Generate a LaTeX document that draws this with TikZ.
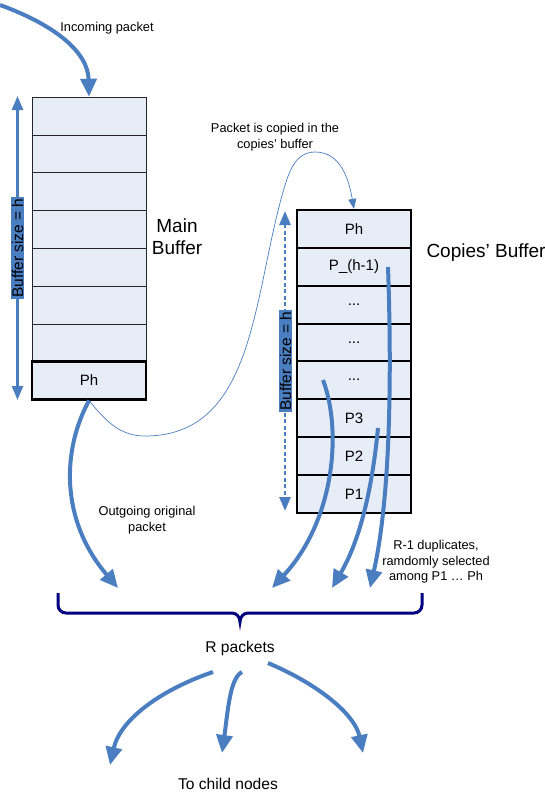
\documentclass[tikz,border=0pt]{standalone}
\usepackage{fontspec}
\setmainfont{Liberation Sans}
\usetikzlibrary{arrows.meta}
\definecolor{arrowblue}{RGB}{74,126,192}
\definecolor{cellfill}{RGB}{230,237,247}
\definecolor{bracenavy}{RGB}{0,0,128}
\tikzset{
  cellbox/.style={draw=black!85, fill=cellfill, line width=0.8pt, minimum width=114pt, minimum height=37.8pt, inner sep=0pt, font=\fontsize{15}{17}\selectfont},
  thickcell/.style={cellbox, draw=black, line width=2.4pt},
  bigarrow/.style={arrowblue, line width=4pt, -{Triangle[width=16pt,length=18pt]}},
  sizelabel/.style={fill=arrowblue, rotate=90, inner xsep=1pt, inner ysep=0.5pt, font=\fontsize{15.5}{17}\selectfont},
  smalltext/.style={align=center, font=\fontsize{12.8}{15.5}\selectfont},
  bigtext/.style={align=center, font=\fontsize{19}{22}\selectfont}
}
\begin{document}
\begin{tikzpicture}[x=1pt, y=-1pt]
\useasboundingbox (0,0) rectangle (545,795);

% main buffer
\node [cellbox] (main1) at (89,116) {};
\node [cellbox] (main2) at (89,154) {};
\node [cellbox] (main3) at (89,191) {};
\node [cellbox] (main4) at (89,229) {};
\node [cellbox] (main5) at (89,267) {};
\node [cellbox] (main6) at (89,305) {};
\node [cellbox] (main7) at (89,343) {};
\node [thickcell] (mainPh) at (89,380.5) {Ph};
\node [bigtext] (mainlbl) at (177,237) {Main\\Buffer};

% copies' buffer
\node [thickcell] (copPh) at (354,229) {Ph};
\node [thickcell] (copPhm) at (354,267) {P\_(h-1)};
\node [thickcell] (copD1) at (354,305) {...};
\node [thickcell] (copD2) at (354,343) {...};
\node [thickcell] (copD3) at (354,380) {...};
\node [thickcell] (copP3) at (354,418) {P3};
\node [thickcell] (copP2) at (354,456) {P2};
\node [thickcell] (copP1) at (354,494) {P1};
\node [bigtext] (coplbl) at (486,253) {Copies' Buffer};

% buffer sizes
\coordinate (mTop) at (17.5,96);
\coordinate (mBot) at (17.5,400);
\draw [arrowblue, line width=2.4pt, {Triangle[width=11pt,length=14pt]}-{Triangle[width=11pt,length=14pt]}] (mTop) -- (mBot);
\node [sizelabel] (msize) at (17.5,248) {Buffer size = h};
\coordinate (cTop) at (285,211);
\coordinate (cBot) at (285,511);
\draw [arrowblue, line width=2.6pt, dash pattern=on 4pt off 2.5pt, {Triangle[width=11pt,length=14pt]}-{Triangle[width=11pt,length=14pt]}] (cTop) -- (cBot);
\node [sizelabel] (csize) at (285.5,361) {Buffer size = h};

% incoming and copy
\coordinate (inStart) at (0,5);
\draw [bigarrow] (inStart) .. controls (55,25) and (88,52) .. (main1.north);
\node [smalltext] (inlbl) at (107,28) {Incoming packet};
\draw [arrowblue, line width=0.7pt, -{Triangle[width=8pt,length=10pt]}] (mainPh.south) to[out=-50,in=180] (145,436) to[out=0,in=-106] (283,192) to[out=74,in=180] (315,152) to[out=0,in=100] (copPh.north);
\node [smalltext] (copylbl) at (275,137) {Packet is copied in the\\copies' buffer};

% outgoing
\coordinate (outTip) at (118,588);
\draw [bigarrow] (mainPh.south) .. controls (62,450) and (60,520) .. (outTip);
\node [smalltext] (outlbl) at (147,520) {Outgoing original\\packet};

% duplicates
\coordinate (dupA) at (323,380);
\coordinate (dupB) at (378,428);
\coordinate (dupC) at (388,267);
\coordinate (tipA) at (272,588);
\coordinate (tipB) at (332,588);
\coordinate (tipC) at (370,588);
\draw [bigarrow] (dupA) .. controls (342,430) and (335,520) .. (tipA);
\draw [bigarrow] (dupB) .. controls (372,490) and (360,540) .. (tipB);
\draw [bigarrow] (dupC) .. controls (392,380) and (390,500) .. (tipC);
\node [smalltext] (duplbl) at (436,562) {R-1 duplicates,\\ramdomly selected\\among P1 … Ph};

% brace
\draw [bracenavy, line width=3pt] (58,593) -- (58,605) to[out=-90,in=180] (66,613) -- (232,613) to[out=0,in=90] (240,622) to[out=90,in=180] (248,613) -- (414,613) to[out=0,in=-90] (422,605) -- (422,593);
\node [font=\fontsize{15.6}{18}\selectfont] (rpk) at (240,648) {R packets};

% to children
\coordinate (kidA) at (110,765);
\coordinate (kidB) at (222,753);
\coordinate (kidC) at (363,753);
\draw [bigarrow] (213,672) .. controls (160,690) and (120,720) .. (kidA);
\draw [bigarrow] (242,672) .. controls (230,678) and (228,710) .. (kidB);
\draw [bigarrow] (268,663) .. controls (320,685) and (355,715) .. (kidC);
\node [font=\fontsize{15.6}{18}\selectfont] (kidlbl) at (228,784) {To child nodes};
\end{tikzpicture}
\end{document}
